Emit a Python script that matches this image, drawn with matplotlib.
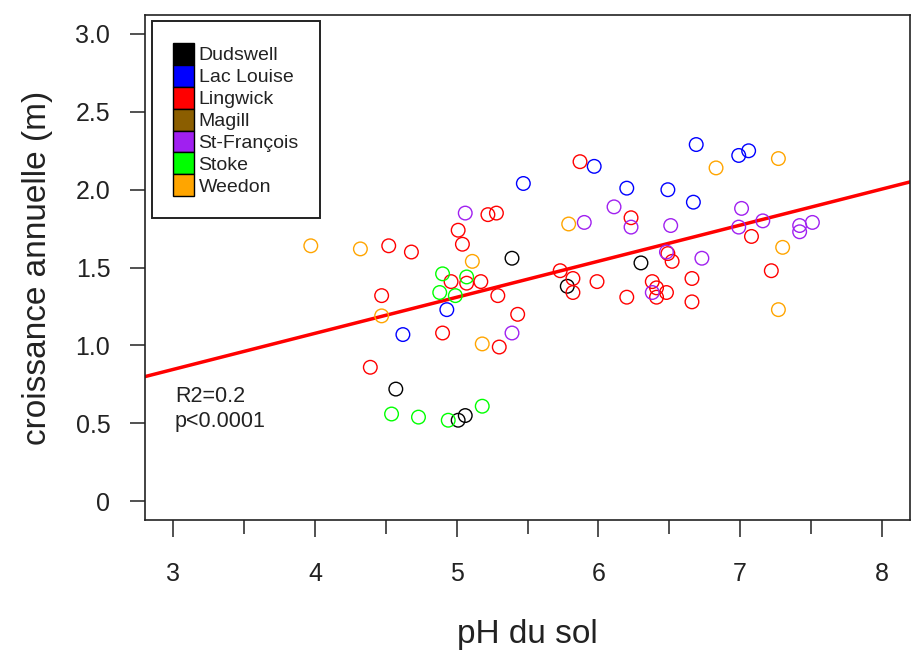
from __future__ import annotations

import matplotlib

matplotlib.use("Agg", force=True)
import matplotlib.pyplot as plt  # noqa: E402
from matplotlib.patches import Patch  # noqa: E402

SITES = ["Dudswell", "Lac Louise", "Lingwick", "Magill", "St-François", "Stoke", "Weedon"]
SITE_COLORS = ["#000000", "#0000FF", "#FF0000", "#8B5E00", "#A020F0", "#00FF00", "#FFA500"]

dudswell_ph = [5.39, 6.30, 5.78, 4.57, 5.01, 5.06]
dudswell_growth = [1.56, 1.53, 1.38, 0.72, 0.52, 0.55]

lac_louise_ph = [4.62, 4.93, 5.47, 5.97, 6.20, 6.49, 6.67, 6.69, 6.99, 7.06]
lac_louise_growth = [1.07, 1.23, 2.04, 2.15, 2.01, 2.00, 1.92, 2.29, 2.22, 2.25]

lingwick_ph = [
    4.39, 4.47, 4.52, 4.68, 4.90, 4.96, 5.01, 5.04, 5.07, 5.17, 5.22, 5.28,
    5.29, 5.30, 5.43, 5.73, 5.82, 5.82, 5.87, 5.99, 6.20, 6.23, 6.38, 6.41,
    6.48, 6.41, 6.49, 6.52, 6.66, 6.66, 7.08, 7.22,
]
lingwick_growth = [
    0.86, 1.32, 1.64, 1.60, 1.08, 1.41, 1.74, 1.65, 1.40, 1.41, 1.84, 1.85,
    1.32, 0.99, 1.20, 1.48, 1.43, 1.34, 2.18, 1.41, 1.31, 1.82, 1.41, 1.37,
    1.34, 1.31, 1.59, 1.54, 1.43, 1.28, 1.70, 1.48,
]

magill_ph: list[float] = []
magill_growth: list[float] = []

st_francois_ph = [
    5.06, 5.39, 5.90, 6.11, 6.23, 6.38, 6.48, 6.51, 6.73, 6.99, 7.01, 7.16,
    7.42, 7.42, 7.51,
]
st_francois_growth = [
    1.85, 1.08, 1.79, 1.89, 1.76, 1.34, 1.60, 1.77, 1.56, 1.76, 1.88, 1.80,
    1.77, 1.73, 1.79,
]

stoke_ph = [4.54, 4.73, 4.88, 4.90, 4.94, 4.99, 5.07, 5.18]
stoke_growth = [0.56, 0.54, 1.34, 1.46, 0.52, 1.32, 1.44, 0.61]

weedon_ph = [3.97, 4.32, 4.47, 5.11, 5.18, 5.79, 6.83, 7.27, 7.30, 7.27]
weedon_growth = [1.64, 1.62, 1.19, 1.54, 1.01, 1.78, 2.14, 2.20, 1.63, 1.23]

# fitted line
FIT_INTERCEPT = 0.152
FIT_SLOPE = 0.2315

X_TICKS = [3, 4, 5, 6, 7, 8]
X_MINOR = [3.5, 4.5, 5.5, 6.5, 7.5]
Y_TICKS = [0, 0.5, 1.0, 1.5, 2.0, 2.5, 3.0]
Y_TICK_LABELS = ["0", "0.5", "1.0", "1.5", "2.0", "2.5", "3.0"]

FONT = ["Liberation Sans", "DejaVu Sans"]


def _site_data() -> list[tuple[list[float], list[float]]]:
    return [
        (dudswell_ph, dudswell_growth),
        (lac_louise_ph, lac_louise_growth),
        (lingwick_ph, lingwick_growth),
        (magill_ph, magill_growth),
        (st_francois_ph, st_francois_growth),
        (stoke_ph, stoke_growth),
        (weedon_ph, weedon_growth),
    ]


def main() -> int:
    plt.rcParams["font.family"] = FONT
    fig = plt.figure(figsize=(9.12, 6.64), dpi=100)
    ax = fig.add_axes((0.159, 0.217, 0.839, 0.760))

    for (ph, growth), color in zip(_site_data(), SITE_COLORS):
        if not ph:
            continue
        ax.scatter(ph, growth, s=96, facecolors="none", edgecolors=color, linewidths=1.0, zorder=3)

    xlim = (2.8, 8.2)
    ax.plot(
        xlim,
        [FIT_INTERCEPT + FIT_SLOPE * x for x in xlim],
        color="#FF0000",
        linewidth=2.5,
        zorder=2,
    )
    ax.set_xlim(*xlim)
    ax.set_ylim(-0.12, 3.12)

    ax.set_xticks(X_TICKS)
    ax.set_xticks(X_MINOR, minor=True)
    ax.set_yticks(Y_TICKS)
    ax.set_yticklabels(Y_TICK_LABELS)
    ax.tick_params(axis="x", which="major", length=12, width=1.1, pad=18, labelsize=18, color="#222222")
    ax.tick_params(axis="x", which="minor", length=10, width=1.1, color="#222222")
    ax.tick_params(axis="y", length=11, width=1.1, pad=14, labelsize=18, color="#222222")
    for label in ax.get_xticklabels() + ax.get_yticklabels():
        label.set_color("#222222")
    for spine in ax.spines.values():
        spine.set_linewidth(1.2)
        spine.set_color("#222222")

    ax.set_xlabel("pH du sol", fontsize=24, labelpad=24, color="#222222")
    ax.set_ylabel("croissance annuelle (m)", fontsize=24, labelpad=16, color="#222222")

    ax.text(3.01, 0.67, "R2=0.2", fontsize=15.5, ha="left", va="center", color="#222222")
    ax.text(3.01, 0.51, "p<0.0001", fontsize=15.5, ha="left", va="center", color="#222222")

    handles = [Patch(facecolor=c, edgecolor="black", linewidth=1.0) for c in SITE_COLORS]
    leg = ax.legend(
        handles,
        SITES,
        loc="upper left",
        bbox_to_anchor=(0.009, 0.988),
        fontsize=14,
        frameon=True,
        fancybox=False,
        borderpad=1.1,
        labelspacing=0.0,
        handlelength=1.05,
        handleheight=1.36,
        handletextpad=0.25,
        borderaxespad=0.0,
    )
    frame = leg.get_frame()
    frame.set_edgecolor("#222222")
    frame.set_linewidth(1.4)
    frame.set_alpha(1.0)
    for text in leg.get_texts():
        text.set_color("#222222")

    fig.savefig("out.png", dpi=100)
    plt.close(fig)
    return 0


if __name__ == "__main__":
    raise SystemExit(main())
